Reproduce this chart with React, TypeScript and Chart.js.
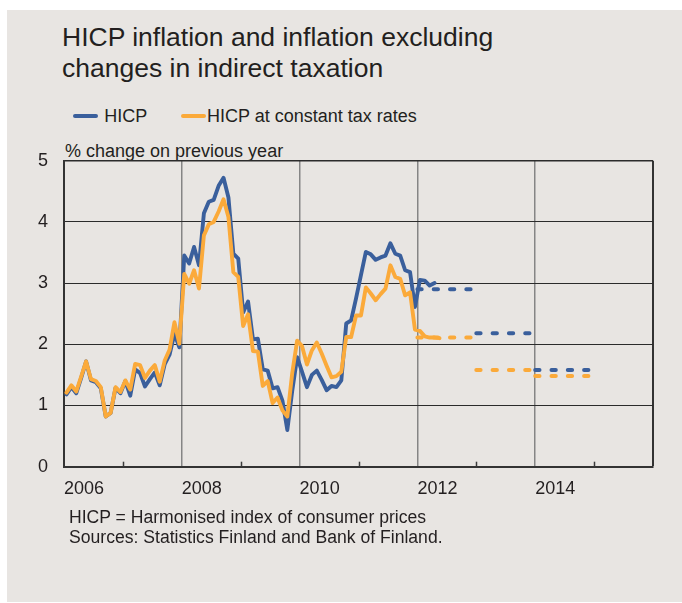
import React, { useEffect, useRef } from "react";
import { Chart, registerables } from "chart.js";

Chart.register(...registerables);

// ---------- data ----------
const START_YEAR = 2006;
const END_YEAR = 2016;

// Monthly y/y % change, Jan 2006 onwards
const hicp = [
  1.18, 1.30, 1.20, 1.45, 1.72, 1.41, 1.38, 1.28, 0.82, 0.88, 1.29, 1.20,
  1.40, 1.16, 1.59, 1.53, 1.31, 1.43, 1.54, 1.33, 1.67, 1.83, 2.17, 1.95,
  3.45, 3.32, 3.59, 3.29, 4.14, 4.33, 4.36, 4.59, 4.72, 4.40, 3.48, 3.40,
  2.52, 2.70, 2.08, 2.09, 1.59, 1.57, 1.28, 1.30, 1.08, 0.60, 1.24, 1.79,
  1.55, 1.30, 1.50, 1.57, 1.42, 1.25, 1.32, 1.30, 1.41, 2.34, 2.39, 2.75,
  3.13, 3.51, 3.47, 3.38, 3.42, 3.45, 3.65, 3.48, 3.45, 3.21, 3.18, 2.61,
  3.05, 3.04, 2.96, 3.00,
];

const hicpConstantTax = [
  1.21, 1.33, 1.23, 1.47, 1.72, 1.43, 1.40, 1.30, 0.82, 0.88, 1.30, 1.22,
  1.41, 1.26, 1.68, 1.66, 1.45, 1.57, 1.66, 1.39, 1.73, 1.91, 2.36, 2.01,
  3.15, 2.99, 3.21, 2.91, 3.78, 3.96, 4.00, 4.17, 4.37, 4.08, 3.18, 3.10,
  2.30, 2.49, 1.89, 1.88, 1.32, 1.40, 1.04, 1.13, 0.92, 0.82, 1.53, 2.06,
  1.97, 1.67, 1.90, 2.03, 1.85, 1.65, 1.46, 1.48, 1.55, 2.12, 2.12, 2.47,
  2.47, 2.93, 2.83, 2.72, 2.82, 2.91, 3.29, 3.10, 3.07, 2.80, 2.85, 2.24,
  2.22, 2.13, 2.11, 2.11, 2.10,
];

// Annual forecasts
const forecastYears = [2012, 2013, 2014];
const hicpForecast = [2.90, 2.18, 1.58];
const constantTaxForecast = [2.11, 1.58, 1.48];

const yearLabels = ["2006", "2008", "2010", "2012", "2014"];
const yTicks = [0, 1, 2, 3, 4, 5];

const seriesNames = ["HICP", "HICP at constant tax rates"];

// ---------- styles ----------
const BLUE = "#3a5f9c";
const ORANGE = "#fbaa3a";
const BG = "#e8e5e2";
const TEXT = "#231f20";
const FONT = '"Liberation Sans", Arial, Helvetica, sans-serif';

const toPoints = (arr: number[]) => arr.map((y, m) => ({ x: m + 0.5, y }));

const minorTicks = {
  id: "minorTicks",
  beforeDatasetsDraw(chart: any) {
    const { ctx, chartArea, scales } = chart;
    const xs = scales.x;
    ctx.save();
    ctx.strokeStyle = "#3a3a3a";
    ctx.lineWidth = 1.5;
    for (let y = START_YEAR + 1; y < END_YEAR; y += 2) {
      const px = Math.round(xs.getPixelForValue((y - START_YEAR) * 12)) + 0.5;
      ctx.beginPath();
      ctx.moveTo(px, chartArea.bottom);
      ctx.lineTo(px, chartArea.bottom - 5);
      ctx.stroke();
    }
    ctx.restore();
  },
};

export default function App() {
  const ref = useRef<HTMLCanvasElement>(null);

  useEffect(() => {
    document.body.style.margin = "0";
    const canvas = ref.current!;
    const forecastSets: any[] = [];
    forecastYears.forEach((yr, i) => {
      const s = (yr - START_YEAR) * 12;
      forecastSets.push({
        label: seriesNames[1] + " forecast " + yr,
        data: [
          { x: s, y: constantTaxForecast[i] },
          { x: s + 12, y: constantTaxForecast[i] },
        ],
        borderColor: ORANGE,
        borderWidth: 4,
        borderDash: [4.3, 12],
        borderCapStyle: "round",
        pointRadius: 0,
        order: 3,
      });
      forecastSets.push({
        label: seriesNames[0] + " forecast " + yr,
        data: [
          { x: s, y: hicpForecast[i] },
          { x: s + 12, y: hicpForecast[i] },
        ],
        borderColor: BLUE,
        borderWidth: 4,
        borderDash: [4.3, 12],
        borderCapStyle: "round",
        pointRadius: 0,
        order: 2,
      });
    });

    const chart = new Chart(canvas, {
      type: "line",
      data: {
        datasets: [
          {
            label: seriesNames[0],
            data: toPoints(hicp),
            borderColor: BLUE,
            borderWidth: 3.9,
            borderJoinStyle: "round",
            borderCapStyle: "round",
            pointRadius: 0,
            tension: 0,
            order: 1,
          },
          {
            label: seriesNames[1],
            data: toPoints(hicpConstantTax),
            borderColor: ORANGE,
            borderWidth: 3.9,
            borderJoinStyle: "round",
            borderCapStyle: "round",
            pointRadius: 0,
            tension: 0,
            order: 0,
          },
          ...forecastSets,
        ],
      },
      options: {
        responsive: false,
        animation: false,
        devicePixelRatio: 1,
        layout: { autoPadding: false, padding: { left: 0, right: 29, top: 10.7, bottom: 0 } },
        plugins: {
          legend: { display: false },
          tooltip: { enabled: false },
        },
        scales: {
          x: {
            type: "linear",
            min: 0,
            max: (END_YEAR - START_YEAR) * 12,
            afterFit: (s: any) => {
              s.height = 43.3;
              s.paddingLeft = 0;
              s.paddingRight = 0;
            },
            afterBuildTicks: (s: any) => {
              const t: any[] = [];
              for (let v = 0; v <= (END_YEAR - START_YEAR) * 12; v += 12) t.push({ value: v });
              s.ticks = t;
            },
            ticks: {
              autoSkip: false,
              maxRotation: 0,
              align: "start",
              padding: 12,
              color: TEXT,
              font: { family: FONT, size: 18 },
              callback: (v: any) => {
                const yr = START_YEAR + Number(v) / 12;
                const lbl = String(yr);
                return yearLabels.includes(lbl) ? lbl : "";
              },
            },
            grid: {
              drawTicks: false,
              color: (c: any) => {
                const v = c.tick ? c.tick.value : 0;
                if (v === (END_YEAR - START_YEAR) * 12) return "#333333";
                if (v > 0 && (v / 12) % 2 === 0) return "#858585";
                return "rgba(0,0,0,0)";
              },
              lineWidth: (c: any) => {
                const v = c.tick ? c.tick.value : 0;
                if (v === (END_YEAR - START_YEAR) * 12) return 2;
                return 1.5;
              },
            },
            border: { display: true, color: "#333333", width: 2 },
          },
          y: {
            min: 0,
            max: 5,
            afterFit: (s: any) => {
              s.width = 64;
              s.paddingTop = 0;
              s.paddingBottom = 0;
            },
            afterBuildTicks: (s: any) => {
              s.ticks = yTicks.map((v) => ({ value: v }));
            },
            ticks: {
              padding: 16,
              color: TEXT,
              font: { family: FONT, size: 18 },
            },
            grid: {
              drawTicks: false,
              color: (c: any) => (c.tick && c.tick.value === 0 ? "rgba(0,0,0,0)" : "#2b2b2b"),
              lineWidth: (c: any) => (c.tick && c.tick.value === 5 ? 1.5 : 1),
            },
            border: { display: true, color: "#333333", width: 2 },
          },
        },
      },
      plugins: [minorTicks],
    } as any);
    return () => chart.destroy();
  }, []);

  const abs = (o: React.CSSProperties): React.CSSProperties => ({
    position: "absolute",
    whiteSpace: "nowrap",
    ...o,
  });

  return (
    <div style={{ position: "relative", width: 682, height: 603, fontFamily: FONT, color: TEXT }}>
      <div style={abs({ left: 7, top: 10, width: 675, height: 592, background: BG })} />
      <div style={abs({ left: 62, top: 21.9, fontSize: 26.5, lineHeight: "31.6px" })}>
        HICP inflation and inflation excluding
        <br />
        changes in indirect taxation
      </div>
      <div style={abs({ left: 73, top: 113.7, width: 25, height: 4, background: BLUE, borderRadius: 2 })} />
      <div style={abs({ left: 104.3, top: 105.1, fontSize: 18, lineHeight: "22px" })}>{seriesNames[0]}</div>
      <div style={abs({ left: 181, top: 113.7, width: 25, height: 4, background: ORANGE, borderRadius: 2 })} />
      <div style={abs({ left: 207, top: 105.1, fontSize: 18, lineHeight: "22px" })}>{seriesNames[1]}</div>
      <div style={abs({ left: 65, top: 139.5, fontSize: 18, lineHeight: "22px" })}>% change on previous year</div>
      <canvas ref={ref} width={682} height={360} style={abs({ left: 0, top: 150, width: 682, height: 360 })} />
      <div style={abs({ left: 69, top: 507.2, fontSize: 17.6, lineHeight: "20px" })}>
        HICP = Harmonised index of consumer prices
        <br />
        Sources: Statistics Finland and Bank of Finland.
      </div>
    </div>
  );
}
